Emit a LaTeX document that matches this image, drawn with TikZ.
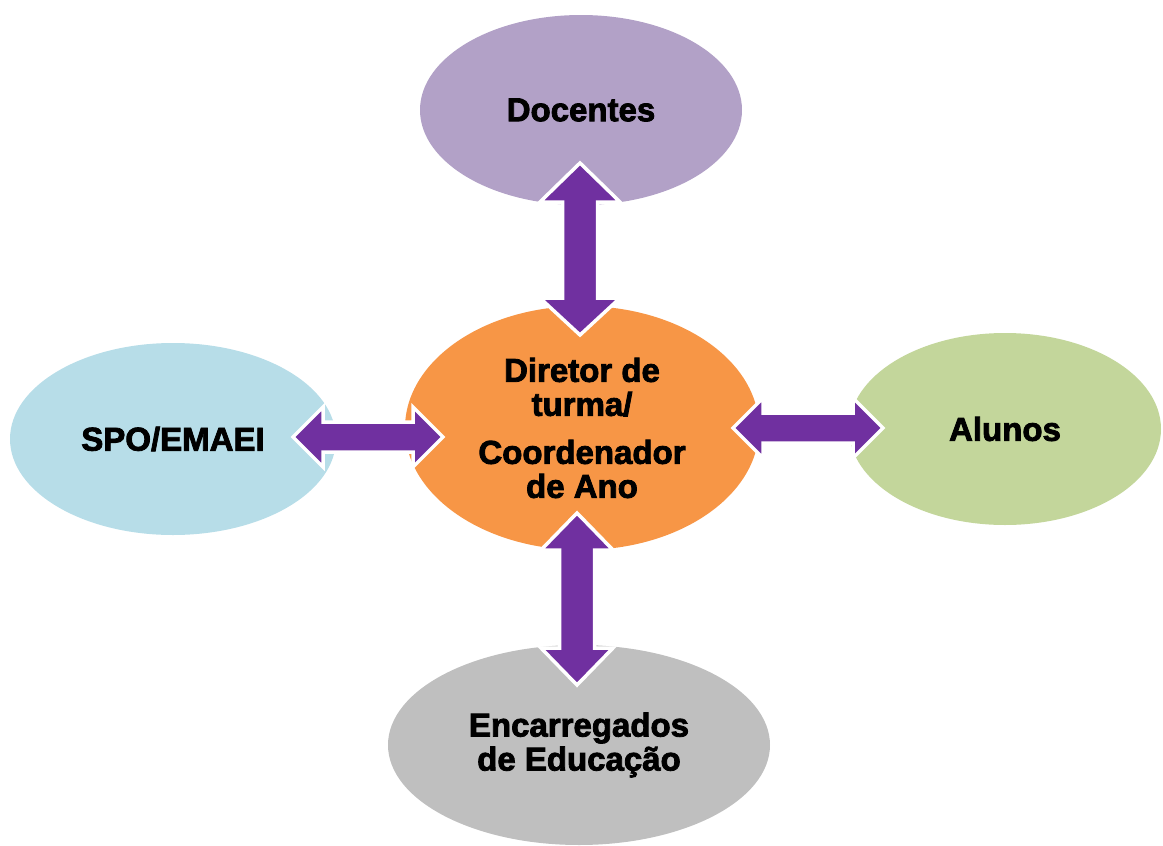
\documentclass[tikz,border=0pt]{standalone}
\usepackage{fontspec}
\setmainfont{Liberation Sans}[BoldFeatures={FakeBold=2.5}]
\usetikzlibrary{shapes.geometric}

\definecolor{lavender}{HTML}{B2A1C7}
\definecolor{orangecore}{HTML}{F79646}
\definecolor{paleblue}{HTML}{B7DDE8}
\definecolor{palegreen}{HTML}{C3D69B}
\definecolor{palegray}{HTML}{BFBFBF}
\definecolor{arrowpurple}{HTML}{7030A0}

\begin{document}
\begin{tikzpicture}[x=1pt,y=-1pt,
    bubble/.style={ellipse,inner sep=0pt,align=center,
      font=\fontsize{33}{34}\selectfont\bfseries},
    dblarrow/.style={fill=arrowpurple,draw=white,line width=3.5pt,line join=miter}]
      \useasboundingbox (0,0) rectangle (1163,846);
      % the five bubbles
      \node[bubble,fill=lavender,minimum width=322,minimum height=190] (doc) at (581,110) {Docentes};
      \node[bubble,fill=paleblue,minimum width=326,minimum height=192] (spo) at (173,439) {SPO/EMAEI};
      \node[bubble,fill=palegreen,minimum width=312,minimum height=192] (alu) at (1005,429) {Alunos};
      \node[bubble,fill=palegray,minimum width=382,minimum height=200] (enc) at (579,745) {Encarregados\\de Educação};
      \node[bubble,fill=orangecore,minimum width=354,minimum height=244] (dir) at (582,428)
        {Diretor de\\turma/\\[14pt]Coordenador\\de Ano};
      % arrow tips
      \coordinate (t1) at (580,163);  \coordinate (t2) at (580,335);
      \coordinate (l1) at (293,437);  \coordinate (l2) at (443,437);
      \coordinate (r1) at (733,428);  \coordinate (r2) at (883,428);
      \coordinate (b1) at (577,513);  \coordinate (b2) at (577,685);
      % double arrows
      \filldraw[dblarrow] (t1) -- ++(40,39) -- ++(-22.5,0) -- ++(0,96) -- ++(22.5,0) -- (t2)
        -- ++(-40,-37) -- ++(22.5,0) -- ++(0,-96) -- ++(-22.5,0) -- cycle;
      \filldraw[dblarrow] (l1) -- ++(30,-30) -- ++(0,15) -- ++(90,0) -- ++(0,-15) -- (l2)
        -- ++(-30,30) -- ++(0,-15) -- ++(-90,0) -- ++(0,15) -- cycle;
      \filldraw[dblarrow] (r1) -- ++(30,-30) -- ++(0,15) -- ++(90,0) -- ++(0,-15) -- (r2)
        -- ++(-30,30) -- ++(0,-15) -- ++(-90,0) -- ++(0,15) -- cycle;
      \filldraw[dblarrow] (b1) -- ++(36,37) -- ++(-18.5,0) -- ++(0,98) -- ++(18.5,0) -- (b2)
        -- ++(-36,-37) -- ++(18.5,0) -- ++(0,-98) -- ++(-18.5,0) -- cycle;
    \end{tikzpicture}
\end{document}
